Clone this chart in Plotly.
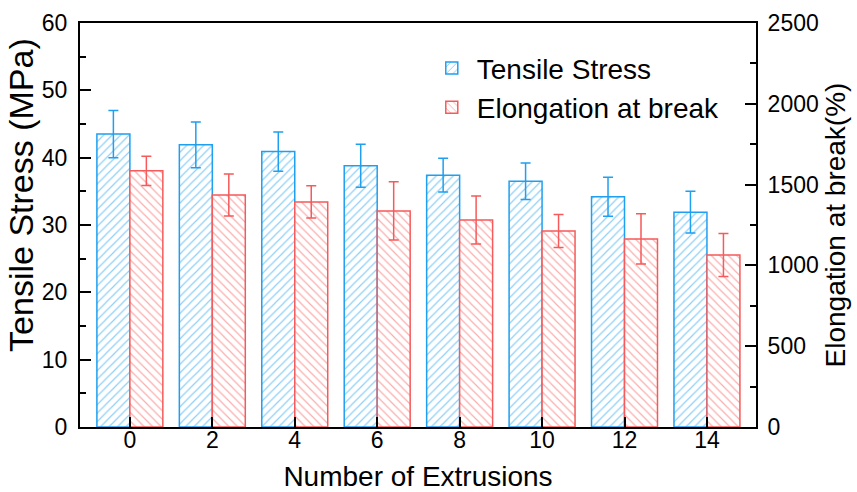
import plotly.graph_objects as go

extrusions = [0, 2, 4, 6, 8, 10, 12, 14]
tensile = [43.5, 41.9, 40.9, 38.8, 37.4, 36.5, 34.2, 31.9]
tensile_err = [3.5, 3.4, 2.9, 3.2, 2.5, 2.7, 2.9, 3.1]
elong = [1585, 1436, 1393, 1337, 1281, 1213, 1164, 1065]
elong_err = [90, 130, 100, 180, 148, 102, 155, 133]

BLUE = "#1e9ff0"
RED = "#f65a5a"
FONT = "Liberation Sans, Arial, sans-serif"

fig = go.Figure()
fig.add_trace(go.Bar(
    x=extrusions, y=tensile, name="Tensile Stress",
    width=0.8, offset=-0.8,
    marker=dict(color="white", line=dict(color=BLUE, width=1.5),
                pattern=dict(shape="/", fgcolor=BLUE, bgcolor="white", size=6, solidity=0.2)),
    error_y=dict(type="data", array=tensile_err, color=BLUE, thickness=1.5, width=5),
    yaxis="y",
))
fig.add_trace(go.Bar(
    x=extrusions, y=elong, name="Elongation at break",
    width=0.8, offset=0,
    marker=dict(color="white", line=dict(color=RED, width=1.5),
                pattern=dict(shape="\\", fgcolor=RED, bgcolor="white", size=6, solidity=0.2)),
    error_y=dict(type="data", array=elong_err, color=RED, thickness=1.5, width=5),
    yaxis="y2",
))

fig.update_layout(
    width=857, height=492,
    margin=dict(l=80, r=101, t=23, b=65, autoexpand=False),
    paper_bgcolor="white", plot_bgcolor="white",
    font=dict(family=FONT, color="black", size=23),
    barmode="overlay",
    showlegend=True,
    legend=dict(x=0.513, y=0.95, xanchor="left", yanchor="top",
                font=dict(size=28, family=FONT), bgcolor="rgba(0,0,0,0)",
                itemwidth=40, tracegroupgap=0),
    xaxis=dict(
        range=[-1.21, 15.19], tickmode="array", tickvals=extrusions,
        ticktext=[str(v) for v in extrusions],
        ticks="inside", ticklen=10, tickwidth=2, tickcolor="black",
        showline=True, linecolor="black", linewidth=2, mirror=True,
        showgrid=False, zeroline=False, automargin=False,
        tickfont=dict(size=23), ticklabelstandoff=-9,
        title=dict(text="Number of Extrusions", font=dict(size=28), standoff=19),
    ),
    yaxis=dict(
        range=[0, 60], tickmode="linear", tick0=0, dtick=10,
        ticks="inside", ticklen=11, tickwidth=2, tickcolor="black",
        minor=dict(ticks="inside", ticklen=6, tickwidth=2, tickcolor="black", dtick=5),
        showline=True, linecolor="black", linewidth=2,
        showgrid=False, zeroline=False, automargin=False,
        tickfont=dict(size=23), ticklabelstandoff=6,
    ),
    yaxis2=dict(
        range=[0, 2500], tickmode="linear", tick0=0, dtick=500,
        overlaying="y", side="right",
        ticks="inside", ticklen=11, tickwidth=2, tickcolor="black",
        minor=dict(ticks="inside", ticklen=6, tickwidth=2, tickcolor="black", dtick=250),
        showline=True, linecolor="black", linewidth=2,
        showgrid=False, zeroline=False, automargin=False,
        tickfont=dict(size=23), ticklabelstandoff=5,
        title=dict(text="Elongation at break(%)", font=dict(size=28), standoff=8),
    ),
    annotations=[dict(
        text="Tensile Stress (MPa)", textangle=-90, showarrow=False,
        xref="paper", yref="paper", x=-0.087, y=0.575,
        xanchor="center", yanchor="middle",
        font=dict(size=34, family=FONT, color="black"),
    )],
)

fig.write_html("out.html")
